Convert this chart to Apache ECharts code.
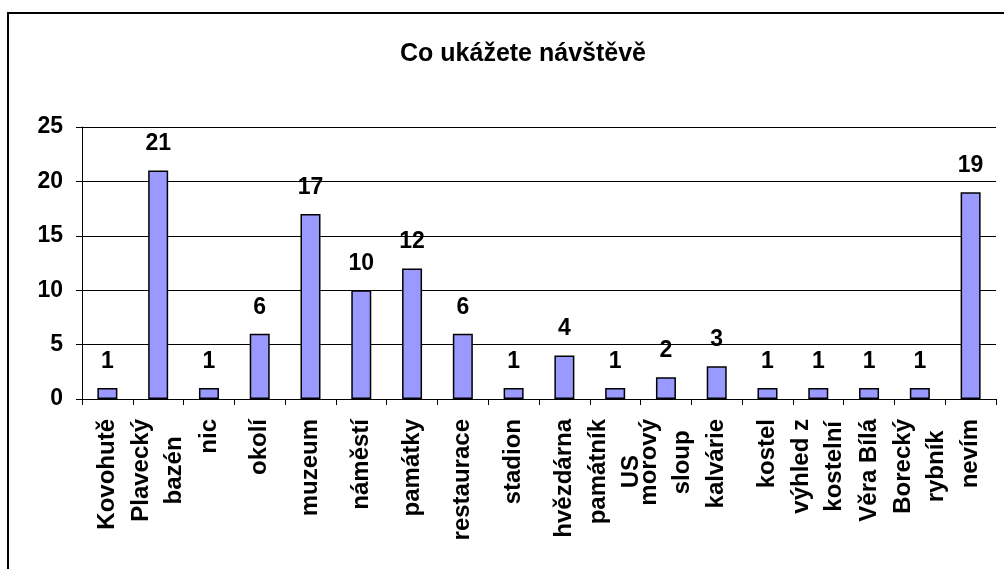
<!DOCTYPE html>
<html>
<head>
<meta charset="utf-8">
<script src="https://cdn.jsdelivr.net/npm/echarts@6/dist/echarts.min.js"></script>
<style>
  html, body { margin: 0; padding: 0; background: #fff; }
  #main { width: 1004px; height: 569px; }
</style>
</head>
<body>
<div id="main"></div>
<script>
var categories = ['Kovohutě', 'Plavecký\nbazén', 'nic', 'okolí', 'muzeum', 'náměstí', 'památky',
    'restaurace', 'stadion', 'hvězdárna', 'památník\nUS', 'morový\nsloup', 'kalvárie', 'kostel',
    'výhled z\nkostelní', 'Věra Bílá', 'Borecký\nrybník', 'nevím'];
var values = [1, 21, 1, 6, 17, 10, 12, 6, 1, 4, 1, 2, 3, 1, 1, 1, 1, 19];
var yTicks = [0, 5, 10, 15, 20, 25];

var chartDom = document.getElementById('main');
var myChart = echarts.init(chartDom);
var font = '"Liberation Sans", Arial, sans-serif';

var option = {
    animation: false,
    title: {
        text: 'Co ukážete návštěvě',
        left: 518,
        top: 37,
        textAlign: 'center',
        textStyle: { fontFamily: font, fontWeight: 'bold', fontSize: 25, color: '#000' }
    },
    graphic: [{
        type: 'rect',
        shape: { x: 8, y: 13, width: 1100, height: 700 },
        style: { fill: null, stroke: '#000', lineWidth: 2 },
        silent: true
    }],
    grid: { left: 82, right: 8, top: 127, bottom: 170 },
    xAxis: {
        type: 'category',
        data: categories,
        axisLine: { lineStyle: { color: '#000', width: 1 } },
        axisTick: { show: true, length: 6, lineStyle: { color: '#000' } },
        axisLabel: {
            interval: 0,
            rotate: 90,
            margin: 20,
            color: '#000',
            fontFamily: font,
            fontWeight: 'bold',
            fontSize: 24,
            lineHeight: 33,
            formatter: function (v) {
                return v.split('\n').map(function (s) { return '{c|' + s + '}'; }).join('\n');
            },
            rich: {
                c: { align: 'center', fontFamily: font, fontWeight: 'bold', fontSize: 24, lineHeight: 33, color: '#000' }
            }
        }
    },
    yAxis: {
        type: 'value',
        min: yTicks[0],
        max: yTicks[yTicks.length - 1],
        interval: 5,
        axisLine: { show: true, lineStyle: { color: '#000', width: 1 } },
        axisTick: { show: true, length: 6, lineStyle: { color: '#000' } },
        axisLabel: {
            margin: 19,
            color: '#000',
            fontFamily: font,
            fontWeight: 'bold',
            fontSize: 23
        },
        splitLine: { show: true, lineStyle: { color: '#000', width: 1 } }
    },
    series: [{
        type: 'bar',
        data: values,
        barWidth: 20,
        itemStyle: { color: '#9999FF', borderColor: '#000', borderWidth: 1.5 },
        label: {
            show: true,
            position: 'top',
            distance: 15,
            color: '#000',
            fontFamily: font,
            fontWeight: 'bold',
            fontSize: 23
        }
    }]
};

option && myChart.setOption(option);
</script>
</body>
</html>
